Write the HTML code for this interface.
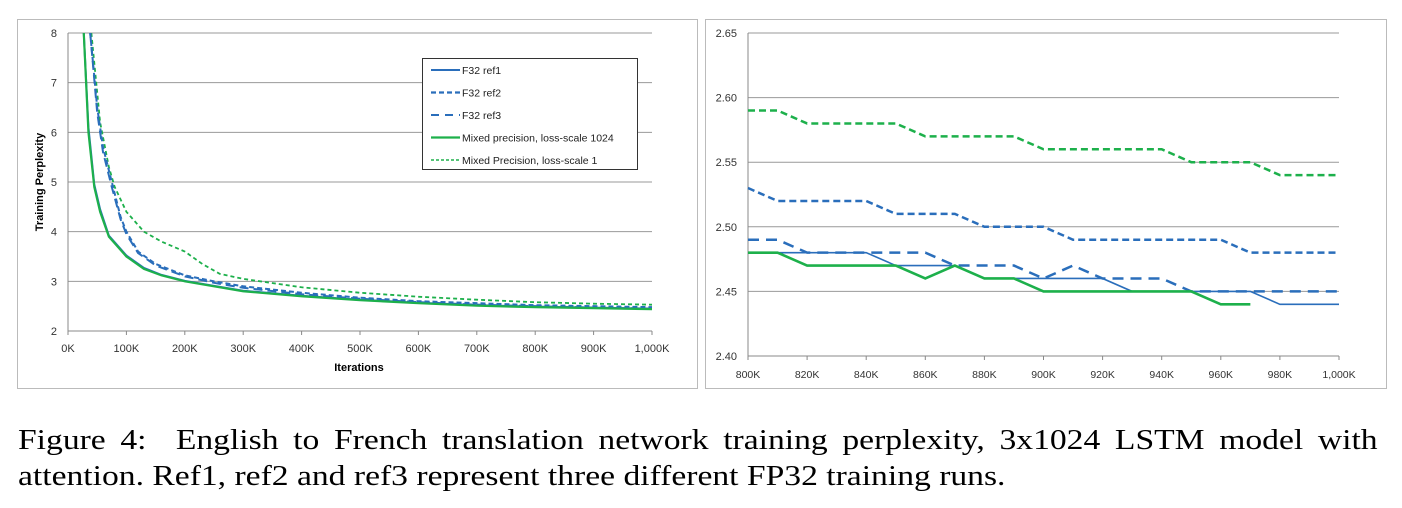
<!DOCTYPE html>
<html><head><meta charset="utf-8"><style>
body{margin:0;background:#fff;width:1402px;height:508px;overflow:hidden;position:relative;font-family:"Liberation Sans",sans-serif}
#cap{position:absolute;left:18px;top:423px;width:1133px;font-family:"Liberation Serif",serif;font-size:28px;line-height:36px;color:#000;text-align:justify;text-align-last:left;transform:scaleX(1.2);transform-origin:0 0}
</style></head><body>
<svg id="svg" width="1402" height="420" style="position:absolute;left:0;top:0" font-family="Liberation Sans, sans-serif"></svg>
<div id="cap">Figure 4: &nbsp;English to French translation network training perplexity, 3x1024 LSTM model with attention. Ref1, ref2 and ref3 represent three different FP32 training runs.</div>
<script>
// Left chart data (x in K iterations)
const lx1 = [27,35,45,55,70,100,130,160,200,250,300,400,500,600,700,800,900,1000];
const lMixed1024 = [8,6,4.9,4.4,3.9,3.5,3.25,3.12,3.0,2.9,2.8,2.7,2.62,2.56,2.51,2.48,2.46,2.44];
const lRef1 = [8,6.1,4.95,4.45,3.92,3.52,3.27,3.13,3.01,2.91,2.81,2.71,2.63,2.57,2.52,2.49,2.47,2.45];
const lx2 = [38,50,60,75,90,100,120,150,200,250,300,400,500,600,700,800,900,1000];
const lRef2 = [8,6.5,5.7,5.0,4.3,4.0,3.6,3.35,3.12,3.0,2.9,2.77,2.67,2.6,2.56,2.52,2.5,2.48];
const lRef3 = [8,6.4,5.6,4.9,4.25,3.95,3.57,3.32,3.1,2.97,2.87,2.74,2.65,2.58,2.53,2.5,2.47,2.45];
const lx3 = [40,55,70,80,100,130,160,200,230,260,300,400,500,600,700,800,900,1000];
const lMixed1 = [8,6.2,5.3,4.9,4.4,4.0,3.8,3.6,3.35,3.15,3.05,2.88,2.77,2.69,2.63,2.58,2.55,2.53];
const lXTicks = ["0K","100K","200K","300K","400K","500K","600K","700K","800K","900K","1,000K"];
const lYTicks = [2,3,4,5,6,7,8];
// Right chart data (x in K)
const rx = [800,810,820,830,840,850,860,870,880,890,900,910,920,930,940,950,960,970,980,990,1000];
const rRef1 = [2.48,2.48,2.48,2.48,2.48,2.47,2.47,2.47,2.46,2.46,2.46,2.46,2.46,2.45,2.45,2.45,2.45,2.45,2.44,2.44,2.44];
const rRef2 = [2.53,2.52,2.52,2.52,2.52,2.51,2.51,2.51,2.50,2.50,2.50,2.49,2.49,2.49,2.49,2.49,2.49,2.48,2.48,2.48,2.48];
const rRef3 = [2.49,2.49,2.48,2.48,2.48,2.48,2.48,2.47,2.47,2.47,2.46,2.47,2.46,2.46,2.46,2.45,2.45,2.45,2.45,2.45,2.45];
const rMixed1024 = [2.48,2.48,2.47,2.47,2.47,2.47,2.46,2.47,2.46,2.46,2.45,2.45,2.45,2.45,2.45,2.45,2.44,2.44];
const rMixed1 = [2.59,2.59,2.58,2.58,2.58,2.58,2.57,2.57,2.57,2.57,2.56,2.56,2.56,2.56,2.56,2.55,2.55,2.55,2.54,2.54,2.54];
const rXTicks = ["800K","820K","840K","860K","880K","900K","920K","940K","960K","980K","1,000K"];
const rYTicks = ["2.40","2.45","2.50","2.55","2.60","2.65"];

const svg=document.getElementById('svg');const NS='http://www.w3.org/2000/svg';
function el(t,a,p){const e=document.createElementNS(NS,t);for(const k in a)e.setAttribute(k,a[k]);(p||svg).appendChild(e);return e;}
const BLUE='#2a6ebb',GREEN='#1db04b';
// Left
const LX=v=>68+(v/1000)*584, LY=v=>331-(v-2)*49.67;
const lf=el('rect',{x:17.5,y:19.5,width:680,height:369,fill:'none',stroke:'#bbb'});

lYTicks.forEach(v=>{if(v>2){const g=el('line',{x1:68,x2:652,y1:LY(v),y2:LY(v),stroke:'#999'});}
 const t=el('text',{x:57,y:LY(v)+4,'font-size':11,'text-anchor':'end',fill:'#333'});t.textContent=v;});
el('line',{x1:68,x2:68,y1:33,y2:331,stroke:'#888'});el('line',{x1:68,x2:652,y1:331,y2:331,stroke:'#888'});
lXTicks.forEach((s,i)=>{const x=68+i*58.4;el('line',{x1:x,x2:x,y1:331,y2:335,stroke:'#888'});
 const t=el('text',{x:x,y:352,'font-size':11,'text-anchor':'middle',fill:'#333'});t.textContent=s;});
let t=el('text',{x:359,y:371,'font-size':11,'font-weight':'bold','text-anchor':'middle'});t.textContent='Iterations';
t=el('text',{x:0,y:0,'font-size':11,'font-weight':'bold','text-anchor':'middle',transform:'translate(43,182) rotate(-90)'});t.textContent='Training Perplexity';
const cl=el('clipPath',{id:'lc'});el('rect',{x:68,y:33,width:590,height:300},cl);
function line(xs,ys,fx,fy,st,dash,w,name,clip){const p=el('polyline',{points:ys.map((v,i)=>fx(xs[i])+','+fy(v)).join(' '),fill:'none',stroke:st,'stroke-width':w,'stroke-dasharray':dash||'none','clip-path':clip?'url(#'+clip+')':'none'});}
line(lx3,lMixed1,LX,LY,GREEN,'4,3',1.8,'series-mixed-ls1','lc');
line(lx2,lRef3,LX,LY,BLUE,'9,5',2,'series-ref3','lc');
line(lx2,lRef2,LX,LY,BLUE,'5,3',2,'series-ref2','lc');
line(lx1,lRef1,LX,LY,BLUE,'',2,'series-ref1','lc');
line(lx1,lMixed1024,LX,LY,GREEN,'',2.2,'series-mixed-ls1024','lc');
// Legend
const lg=el('rect',{x:422.5,y:58.5,width:215,height:111,fill:'#fff',stroke:'#333'});
[['F32 ref1',BLUE,'',2],['F32 ref2',BLUE,'5,3',2.2],['F32 ref3',BLUE,'8,6',2],['Mixed precision, loss-scale 1024',GREEN,'',2.2],['Mixed Precision, loss-scale 1',GREEN,'3,2',1.6]].forEach((e,i)=>{const y=70+i*22.5;
 el('line',{x1:431,x2:460,y1:y,y2:y,stroke:e[1],'stroke-width':e[3],'stroke-dasharray':e[2]||'none'});
 const tx=el('text',{x:462,y:y+4,'font-size':10.5,fill:'#222'});tx.textContent=e[0];});
// Right
const RX=v=>748+(v-800)*2.955, RY=v=>356-(v-2.40)*1292;
const rf=el('rect',{x:705.5,y:19.5,width:681,height:369,fill:'none',stroke:'#bbb'});
rYTicks.forEach(s=>{const v=parseFloat(s);if(v>2.4){const g=el('line',{x1:748,x2:1339,y1:RY(v),y2:RY(v),stroke:'#999'});}
 const tt=el('text',{x:737,y:RY(v)+4,'font-size':11,'text-anchor':'end',fill:'#333'});tt.textContent=s;});
el('line',{x1:748,x2:748,y1:33,y2:356,stroke:'#888'});el('line',{x1:748,x2:1339,y1:356,y2:356,stroke:'#888'});
rXTicks.forEach((s,i)=>{const x=748+i*59.1;el('line',{x1:x,x2:x,y1:356,y2:360,stroke:'#888'});
 const tt=el('text',{x:x,y:378,'font-size':10.5,'text-anchor':'middle',fill:'#333'});tt.textContent=s;});
line(rx,rMixed1,RX,RY,GREEN,'7,4',2.5,'zoom-series-mixed-ls1');
line(rx,rRef2,RX,RY,BLUE,'7,4',2.5,'zoom-series-ref2');
line(rx,rRef3,RX,RY,BLUE,'11,7',2.5,'zoom-series-ref3');
line(rx,rRef1,RX,RY,BLUE,'',1.6,'zoom-series-ref1');
line(rx.slice(0,rMixed1024.length),rMixed1024,RX,RY,GREEN,'',2.6,'zoom-series-mixed-ls1024');
</script>
</body></html>
